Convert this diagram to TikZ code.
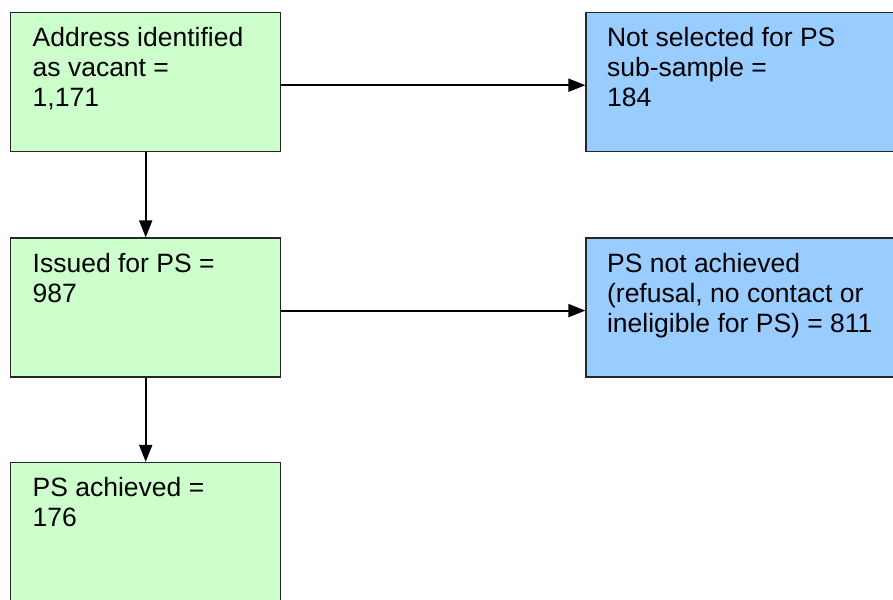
\documentclass[tikz,border=0pt]{standalone}
\usepackage{fontspec}
\setmainfont{Liberation Sans}
\usetikzlibrary{positioning,arrows.meta}
\definecolor{boxgreen}{HTML}{CCFFCC}
\definecolor{boxblue}{HTML}{99CCFF}
\newcommand{\boxtext}[2]{\parbox[t][109pt][t]{#1}{\raggedright #2}}
\tikzset{
  stage/.style={draw=black!85, line width=1.4pt, fill=boxgreen, minimum width=270pt, minimum height=137pt,
    inner xsep=20pt, inner ysep=15pt, font=\fontsize{26.5}{30}\selectfont},
  outcome/.style={stage, fill=boxblue, minimum width=320pt},
  flow/.style={line width=2pt, -{Triangle[length=17pt,width=13pt]}}
}
\begin{document}
\begin{tikzpicture}
\useasboundingbox (0,0) rectangle (893pt,-599pt);
\clip (0,0) rectangle (893pt,-599pt);

\node[stage, anchor=north west] (vacant) at (10pt,-12pt) {\boxtext{226pt}{Address identified\\as vacant =\\1,171}};
\node[outcome, right=304pt of vacant.east, anchor=west] (notsel) {\boxtext{278pt}{Not selected for PS\\sub-sample =\\184}};
\node[stage, below=85pt of vacant] (issued) {\boxtext{226pt}{Issued for PS =\\987}};
\node[outcome, right=304pt of issued.east, anchor=west] (notach) {\boxtext{278pt}{PS not achieved\\(refusal, no contact or\\ineligible for PS) = 811}};
\node[stage, below=84pt of issued] (achieved) {\boxtext{226pt}{PS achieved =\\176}};

\draw[flow] ([yshift=-3pt]vacant.east) -- ([yshift=-3pt]notsel.west);
\draw[flow] (vacant) -- (issued);
\draw[flow] ([yshift=-3pt]issued.east) -- ([yshift=-3pt]notach.west);
\draw[flow] (issued) -- (achieved);

\end{tikzpicture}
\end{document}
